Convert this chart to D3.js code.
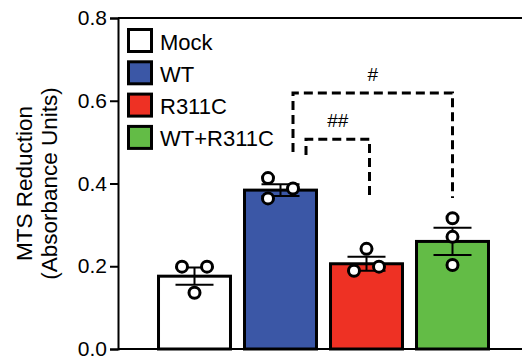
<!DOCTYPE html>
<html lang="en">
<head>
<meta charset="utf-8">
<script src="https://d3js.org/d3.v7.min.js"></script>
<style>
  body { margin: 0; background: #fff; }
  svg { display: block; font-family: "Liberation Sans", Arial, sans-serif; }
</style>
</head>
<body>
<div id="my_graph"></div>
<script>
// data
const groups = ["Mock", "WT", "R311C", "WT+R311C"];
const means = [0.176, 0.384, 0.206, 0.260];
const sems = [0.021, 0.014, 0.017, 0.033];
const points = [
  [0.199, 0.199, 0.136],
  [0.413, 0.388, 0.364],
  [0.242, 0.189, 0.199],
  [0.316, 0.271, 0.203]
];
const colours = ["#ffffff", "#3b57a6", "#ee3124", "#63bc46"];
const yTicks = [0.0, 0.2, 0.4, 0.6, 0.8];
// significance brackets: level, leg ends (data units)
const brackets = [
  { from: 1, to: 3, label: "#", level: 0.619, leftEnd: 0.476, rightEnd: 0.365, dx1: 12.5, dx2: 0 },
  { from: 1, to: 2, label: "##", level: 0.507, leftEnd: 0.469, rightEnd: 0.372, dx1: 25.5, dx2: 3 }
];

const W = 522, H = 358;
const margin = { top: 18, left: 118, bottom: 9 };
const height = H - margin.top - margin.bottom;

const svg = d3.select("#my_graph").append("svg")
  .attr("width", W).attr("height", H);

const x = d3.scaleBand()
  .domain(groups)
  .range([151.5, 495.5])
  .paddingInner(0.163)
  .paddingOuter(0.0815);

const y = d3.scaleLinear()
  .domain([0, 0.8])
  .range([margin.top + height, margin.top]);

// frame line on top (runs off the right edge)
svg.append("line")
  .attr("x1", margin.left).attr("x2", W + 5)
  .attr("y1", y(0.8)).attr("y2", y(0.8))
  .attr("stroke", "#000").attr("stroke-width", 2);

// bars
svg.selectAll("rect.bar").data(groups).join("rect")
  .attr("class", "bar")
  .attr("x", d => x(d))
  .attr("y", (d, i) => y(means[i]))
  .attr("width", x.bandwidth())
  .attr("height", (d, i) => y(0) - y(means[i]))
  .attr("fill", (d, i) => colours[i])
  .attr("stroke", "#000")
  .attr("stroke-width", 3);

// bottom axis line
svg.append("line")
  .attr("x1", margin.left).attr("x2", W + 5)
  .attr("y1", y(0)).attr("y2", y(0))
  .attr("stroke", "#000").attr("stroke-width", 2);

// y axis
const yAxis = svg.append("g")
  .attr("transform", `translate(${margin.left},0)`)
  .call(d3.axisLeft(y).tickValues(yTicks).tickFormat(d3.format(".1f")).tickSize(8).tickPadding(3));
yAxis.select(".domain").attr("stroke-width", 2);
yAxis.selectAll(".tick line").attr("stroke-width", 2);
yAxis.selectAll(".tick text").attr("font-size", 21).attr("fill", "#000")
  .attr("font-family", "'Liberation Sans', Arial, sans-serif");

// y title
const title = svg.append("text")
  .attr("transform", `translate(0,${y(0.4)}) rotate(-90)`)
  .attr("text-anchor", "middle")
  .attr("font-size", 22.5);
title.append("tspan").attr("x", 0).attr("y", 32).text("MTS Reduction");
title.append("tspan").attr("x", 0).attr("y", 57).text("(Absorbance Units)");

// error bars
const cap = 19;
const eb = svg.selectAll("g.err").data(groups).join("g").attr("class", "err")
  .attr("stroke", "#000").attr("stroke-width", 2);
eb.append("line")
  .attr("x1", d => x(d) + x.bandwidth() / 2).attr("x2", d => x(d) + x.bandwidth() / 2)
  .attr("y1", (d, i) => y(means[i] - sems[i])).attr("y2", (d, i) => y(means[i] + sems[i]));
eb.append("line")
  .attr("x1", d => x(d) + x.bandwidth() / 2 - cap).attr("x2", d => x(d) + x.bandwidth() / 2 + cap)
  .attr("y1", (d, i) => y(means[i] + sems[i])).attr("y2", (d, i) => y(means[i] + sems[i]));
eb.append("line")
  .attr("x1", d => x(d) + x.bandwidth() / 2 - cap).attr("x2", d => x(d) + x.bandwidth() / 2 + cap)
  .attr("y1", (d, i) => y(means[i] - sems[i])).attr("y2", (d, i) => y(means[i] - sems[i]));

// simple zig-zag swarm for the dots
const r = 5.5, shift = 12.5, minGap = 13;
const dots = [];
groups.forEach((g, gi) => {
  const cx = x(g) + x.bandwidth() / 2;
  const placed = points[gi].map(v => ({ v, py: y(v), off: 0 }))
    .sort((a, b) => a.v - b.v);
  placed.forEach((p, k) => {
    if (k > 0) {
      const prev = placed[k - 1];
      if (Math.abs(prev.py - p.py) < minGap) {
        if (prev.off === 0) prev.off = -shift;
        p.off = -prev.off;
      }
    }
  });
  placed.forEach(p => dots.push({ x: cx + p.off, y: p.py }));
});
svg.selectAll("circle.dot").data(dots).join("circle")
  .attr("class", "dot")
  .attr("cx", d => d.x).attr("cy", d => d.y).attr("r", r)
  .attr("fill", "#fff").attr("stroke", "#000").attr("stroke-width", 3);

// brackets
brackets.forEach(b => {
  const x1 = x(groups[b.from]) + x.bandwidth() / 2 + b.dx1;
  const x2 = x(groups[b.to]) + x.bandwidth() / 2 + b.dx2;
  svg.append("path")
    .attr("d", `M${x1},${y(b.leftEnd)}V${y(b.level)}H${x2}V${y(b.rightEnd)}`)
    .attr("fill", "none").attr("stroke", "#000").attr("stroke-width", 3)
    .attr("stroke-dasharray", "9,5");
  svg.append("text")
    .attr("x", (x1 + x2) / 2).attr("y", y(b.level) - 12)
    .attr("text-anchor", "middle").attr("font-size", 19)
    .text(b.label);
});

// legend
const leg = svg.append("g").attr("transform", "translate(128.5,29.5)");
groups.forEach((g, i) => {
  const row = leg.append("g").attr("transform", `translate(0,${i * 32.3})`);
  row.append("rect").attr("width", 23).attr("height", 22)
    .attr("fill", colours[i]).attr("stroke", "#000").attr("stroke-width", 3);
  row.append("text").attr("x", 31.5).attr("y", 20).attr("font-size", 22).text(g);
});
</script>
</body>
</html>
